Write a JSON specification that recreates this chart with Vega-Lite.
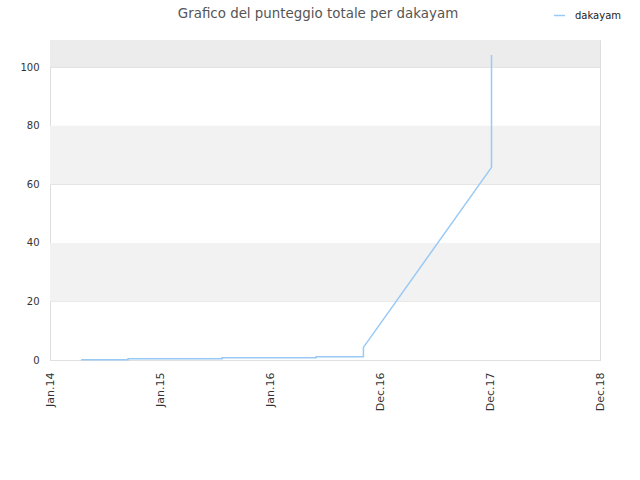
{
  "$schema": "https://vega.github.io/schema/vega-lite/v6.json",
  "width": 550,
  "height": 320,
  "autosize": "none",
  "padding": {"left": 50, "top": 40, "right": 40, "bottom": 120},
  "background": "white",
  "config": {
    "font": "DejaVu Sans",
    "view": {"stroke": "#dddddd", "strokeWidth": 1}
  },
  "title": {
    "text": "Grafico del punteggio totale per dakayam",
    "fontSize": 13.4,
    "fontWeight": "normal",
    "color": "#555555",
    "anchor": "middle",
    "dx": -7,
    "offset": -11
  },
  "datasets": {
    "bands": [
      {"lo": 20, "hi": 40, "fill": "#f2f2f2"},
      {"lo": 60, "hi": 80, "fill": "#f2f2f2"},
      {"lo": 100, "hi": 109.3, "fill": "#ececec"}
    ],
    "scores": [
      {"date": "2014-04-14", "score": 0.1, "series": "dakayam"},
      {"date": "2014-09-17", "score": 0.1, "series": "dakayam"},
      {"date": "2014-09-17", "score": 0.45, "series": "dakayam"},
      {"date": "2015-07-26", "score": 0.45, "series": "dakayam"},
      {"date": "2015-07-26", "score": 0.8, "series": "dakayam"},
      {"date": "2016-06-02", "score": 0.8, "series": "dakayam"},
      {"date": "2016-06-02", "score": 1.1, "series": "dakayam"},
      {"date": "2016-11-06", "score": 1.1, "series": "dakayam"},
      {"date": "2016-11-06", "score": 4.3, "series": "dakayam"},
      {"date": "2018-01-05", "score": 65.8, "series": "dakayam"},
      {"date": "2018-01-05", "score": 104.2, "series": "dakayam"}
    ]
  },
  "layer": [
    {
      "data": {"name": "bands"},
      "mark": {"type": "rect"},
      "encoding": {
        "y": {
          "field": "lo",
          "type": "quantitative",
          "scale": {"domain": [0, 109.3], "nice": false},
          "axis": {
            "title": null,
            "values": [0, 20, 40, 60, 80, 100],
            "labelFontSize": 10,
            "labelColor": "#333333",
            "labelPadding": 11,
            "ticks": false,
            "domain": false,
            "grid": true,
            "gridColor": "#e0e0e0",
            "gridWidth": 1
          }
        },
        "y2": {"field": "hi"},
        "fill": {"field": "fill", "type": "nominal", "scale": null, "legend": null}
      }
    },
    {
      "data": {"name": "scores"},
      "mark": {"type": "line", "strokeWidth": 1.5, "interpolate": "linear"},
      "encoding": {
        "x": {
          "field": "date",
          "type": "temporal",
          "scale": {
            "type": "utc",
            "domain": [
              {"year": 2014, "month": 1, "date": 1, "utc": true},
              {"year": 2018, "month": 12, "date": 31, "utc": true}
            ]
          },
          "axis": {
            "title": null,
            "values": [
              {"year": 2014, "month": 1, "date": 1, "utc": true},
              {"year": 2015, "month": 1, "date": 1, "utc": true},
              {"year": 2016, "month": 1, "date": 1, "utc": true},
              {"year": 2016, "month": 12, "date": 31, "utc": true},
              {"year": 2017, "month": 12, "date": 31, "utc": true},
              {"year": 2018, "month": 12, "date": 31, "utc": true}
            ],
            "labelExpr": "utcFormat(datum.value, '%b.%y')",
            "labelAngle": -90,
            "labelAlign": "right",
            "labelBaseline": "middle",
            "labelFontSize": 11,
            "labelColor": "#333333",
            "labelPadding": 12,
            "ticks": false,
            "domain": false,
            "grid": false,
            "labelOverlap": false,
            "labelBound": false,
            "labelFlush": false
          }
        },
        "y": {
          "field": "score",
          "type": "quantitative"
        },
        "color": {
          "field": "series",
          "type": "nominal",
          "scale": {"range": ["#99c9f5"]},
          "legend": {
            "title": null,
            "orient": "none",
            "legendX": 503,
            "legendY": -31,
            "symbolType": "stroke",
            "symbolStrokeWidth": 1.5,
            "symbolSize": 120,
            "labelFontSize": 10,
            "labelColor": "#222222",
            "labelOffset": 9
          }
        }
      }
    }
  ]
}
